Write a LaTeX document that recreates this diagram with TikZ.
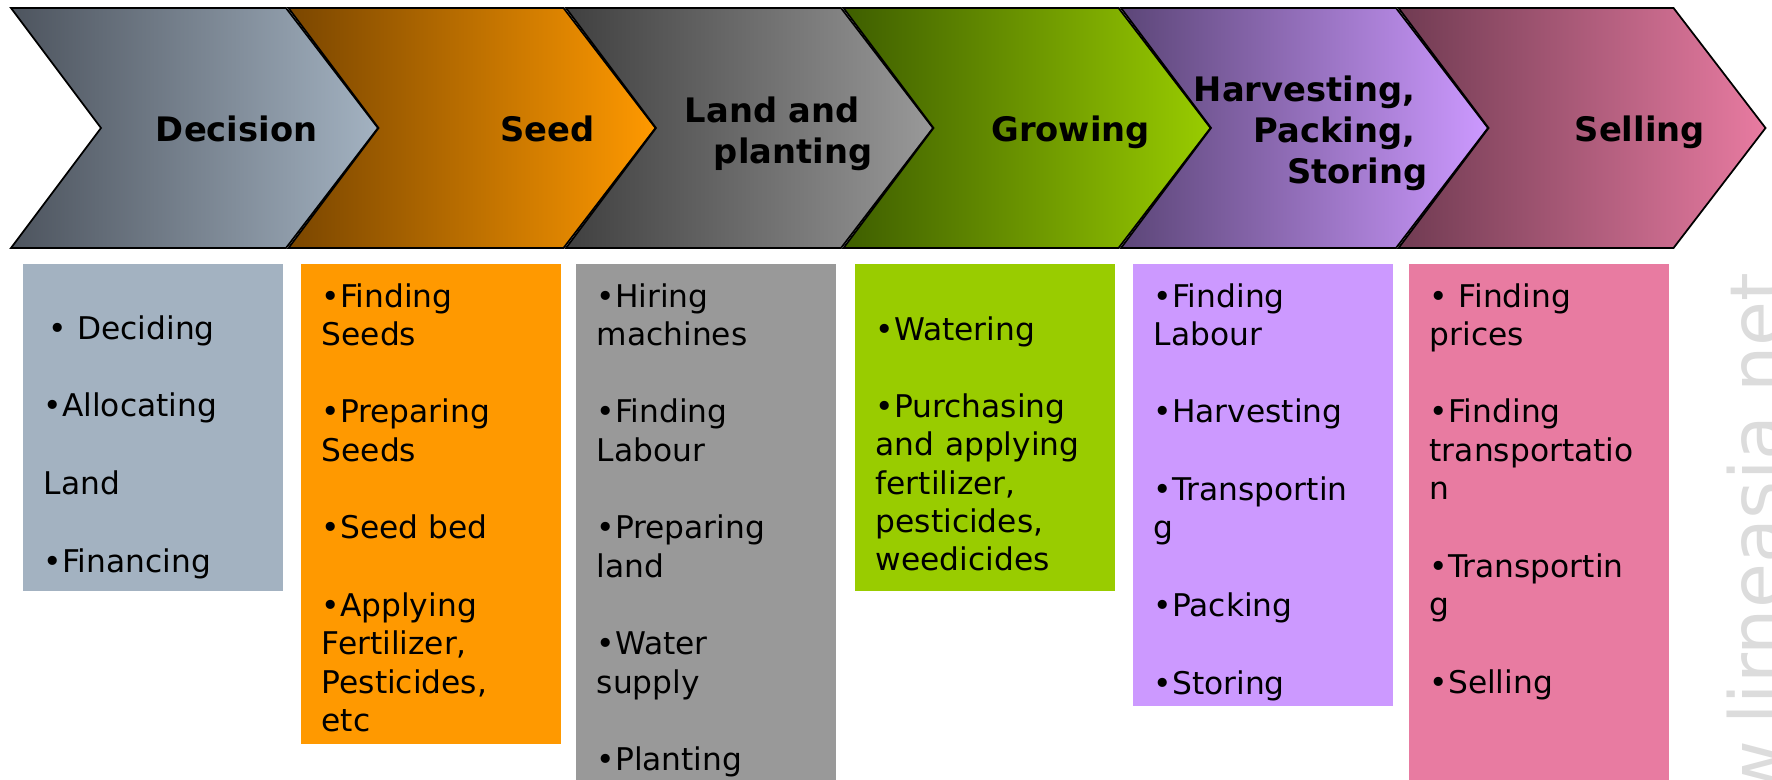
\documentclass[tikz,border=0pt]{standalone}
\usepackage{fontspec}
\setmainfont{DejaVu Sans}
\usepackage{xcolor}
\usetikzlibrary{positioning}

\definecolor{decL}{RGB}{77,84,94}
\definecolor{decR}{RGB}{163,178,193}
\definecolor{seedL}{RGB}{122,70,0}
\definecolor{seedR}{RGB}{255,153,0}
\definecolor{landL}{RGB}{64,64,64}
\definecolor{landR}{RGB}{153,153,153}
\definecolor{growL}{RGB}{62,94,0}
\definecolor{growR}{RGB}{153,204,0}
\definecolor{harvL}{RGB}{92,70,120}
\definecolor{harvR}{RGB}{204,153,255}
\definecolor{sellL}{RGB}{112,59,82}
\definecolor{sellR}{RGB}{232,123,161}
\definecolor{wmark}{RGB}{220,220,220}

\begin{document}
\begin{tikzpicture}[x=0.1mm, y=-0.1mm,
    chev/.style={draw=black, line width=0.5pt},
    head/.style={anchor=base east, inner sep=0pt, text width=25mm, align=right,
      font=\fontsize{9.6pt}{11.8pt}\selectfont\bfseries},
    items/.style={anchor=base west, inner sep=0pt, text width=25mm, align=left,
      font=\fontsize{8.9pt}{10.9pt}\selectfont}]
    \useasboundingbox (0,0) rectangle (1772,779);

    % chevrons
    \foreach \i/\lc/\rc in {0/decL/decR, 1/seedL/seedR, 2/landL/landR,
                            3/growL/growR, 4/harvL/harvR, 5/sellL/sellR} {
        \pgfmathsetmacro\xl{11+277.5*\i}
        \path[chev, left color=\lc, right color=\rc]
            (\xl,8) -- ++(275,0) -- ++(92,120) -- ++(-92,120)
            -- ++(-275,0) -- ++(90,-120) -- cycle;
    }

    \node[head] (decision) at (318,142) {Decision};
    \node[head] (seed) at (595.5,142) {Seed};
    \node[head] (land) at (873,122) {Land and\kern.38em\\planting};
    \node[head] (grow) at (1150.5,142) {Growing};
    \node[head] (harvest) at (1428,101) {Harvesting,\kern.36em\\Packing,\kern.36em\\Storing};
    \node[head] (sell) at (1705.5,142) {Selling};

    % boxes
    \fill[decR] (23,264) rectangle (283,591);
    \fill[seedR] (301,264) rectangle (561,744);
    \fill[landR] (576,264) rectangle (836,790);
    \fill[growR] (855,264) rectangle (1115,591);
    \fill[harvR] (1133,264) rectangle (1393,706);
    \fill[sellR] (1409,264) rectangle (1669,790);

    \node[items] (dec-txt) at (43,339)
        {\kern.15em• Deciding\\[11.2pt]•Allocating\\[11.2pt]Land\\[11.2pt]•Financing};
    \node[items] (seed-txt) at (321,307)
        {•Finding\\Seeds\\[11.2pt]•Preparing\\Seeds\\[11.2pt]•Seed bed\\[11.2pt]•Applying\\Fertilizer,\\Pesticides,\\etc};
    \node[items] (land-txt) at (596,307)
        {•Hiring\\machines\\[11.2pt]•Finding\\Labour\\[11.2pt]•Preparing\\land\\[11.2pt]•Water\\supply\\[11.2pt]•Planting};
    \node[items] (grow-txt) at (875,340)
        {•Watering\\[11.2pt]•Purchasing\\and applying\\fertilizer,\\pesticides,\\weedicides};
    \node[items] (harv-txt) at (1153,307)
        {•Finding\\Labour\\[11.2pt]•Harvesting\\[11.2pt]•Transportin\\g\\[11.2pt]•Packing\\[11.2pt]•Storing};
    \node[items] (sell-txt) at (1429,307)
        {• Finding\\prices\\[11.2pt]•Finding\\transportatio\\n\\[11.2pt]•Transportin\\g\\[11.2pt]•Selling};

    \node[rotate=90, anchor=base east, inner sep=0pt, text=wmark,
          font=\fontsize{20.8pt}{24pt}\selectfont] (site) at (1782,272) {www.lirneasia.net};
\end{tikzpicture}
\end{document}
